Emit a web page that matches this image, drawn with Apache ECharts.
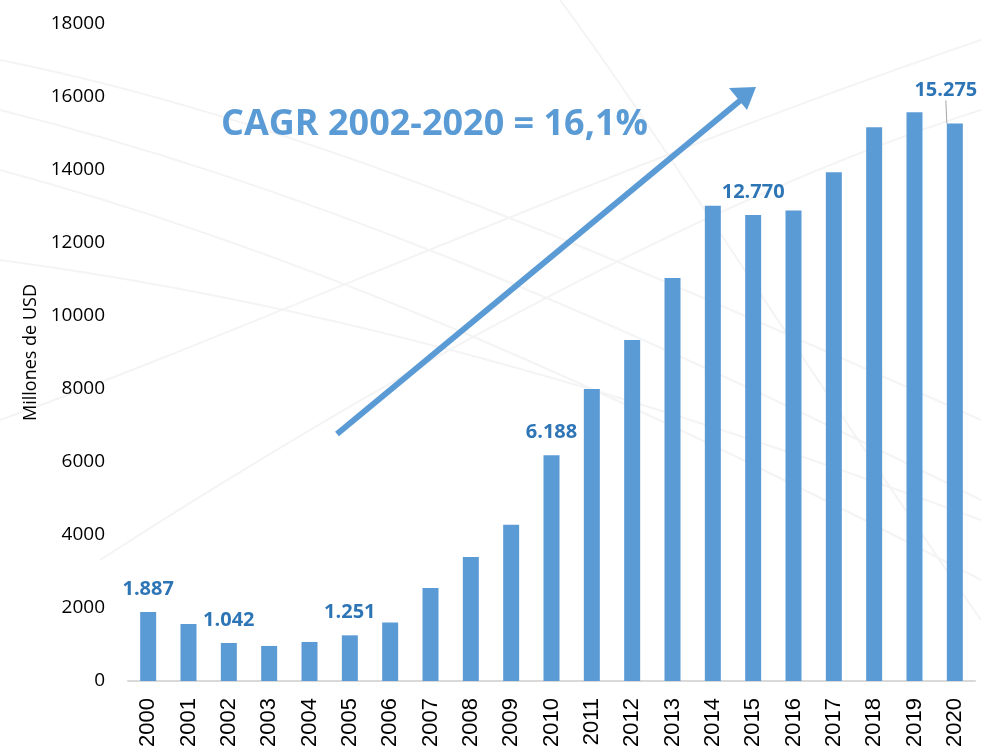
<!DOCTYPE html>
<html>
<head>
    <meta charset="utf-8">
    <title>ECharts</title>
    <script src="https://cdn.jsdelivr.net/npm/echarts@6/dist/echarts.min.js"></script>
    <style>
        html, body { margin: 0; padding: 0; background: #fff; }
    </style>
</head>
<body>
<div id="main" style="height: 754px; width: 981px;"></div>
<script type="text/javascript">
    var years = ['2000', '2001', '2002', '2003', '2004', '2005', '2006', '2007', '2008', '2009', '2010',
        '2011', '2012', '2013', '2014', '2015', '2016', '2017', '2018', '2019', '2020'];
    var values = [1887, 1560, 1042, 960, 1070, 1251, 1600, 2550, 3400, 4280, 6188,
        8000, 9340, 11040, 13020, 12770, 12890, 13940, 15170, 15580, 15275];
    // only these years carry a value label
    var labelled = ['2000', '2002', '2005', '2010', '2015', '2020'];
    var yTicks = { min: 0, max: 18000, interval: 2000 };
    var cagrText = 'CAGR 2002-2020 = 16,1%';

    var myChart = echarts.init(document.getElementById('main'));

    function fmt(v) {
        return String(v).replace(/\B(?=(\d{3})+(?!\d))/g, '.');
    }

    var last = values.length - 1;
    var barData = values.map(function (v, i) {
        return {
            value: v,
            label: { show: labelled.indexOf(years[i]) >= 0 },
            labelLine: { show: i === last }
        };
    });

    // faint decorative swooshes in the background
    var deco = [];
    var curves = [
        [[0, 60], [300, 120], [600, 250], [981, 420]],
        [[0, 110], [280, 180], [580, 300], [981, 500]],
        [[0, 170], [260, 240], [560, 360], [981, 580]],
        [[0, 420], [250, 330], [600, 170], [981, 40]],
        [[100, 560], [380, 380], [700, 200], [981, 110]],
        [[560, 0], [650, 120], [800, 360], [981, 620]],
        [[0, 260], [300, 300], [600, 380], [981, 520]]
    ];
    curves.forEach(function (c) {
        deco.push({
            type: 'bezierCurve',
            z: -10,
            shape: { x1: c[0][0], y1: c[0][1], cpx1: c[1][0], cpy1: c[1][1],
                cpx2: c[2][0], cpy2: c[2][1], x2: c[3][0], y2: c[3][1] },
            style: { stroke: '#F4F4F4', lineWidth: 2, fill: null }
        });
    });

    var option = {
        backgroundColor: '#fff',
        animation: false,
        grid: { left: 128, right: 6, top: 24, bottom: 73 },
        xAxis: {
            type: 'category',
            data: years,
            axisLine: { lineStyle: { color: '#D9D9D9', width: 2 } },
            axisTick: { show: false },
            axisLabel: {
                rotate: 90,
                margin: 17,
                color: '#000',
                fontFamily: 'Liberation Sans',
                fontSize: 22
            }
        },
        yAxis: {
            type: 'value',
            min: yTicks.min,
            max: yTicks.max,
            interval: yTicks.interval,
            name: 'Millones de USD',
            nameLocation: 'middle',
            nameGap: 88,
            nameTextStyle: { color: '#000', fontFamily: 'Open Sans', fontSize: 18 },
            axisLine: { show: false },
            axisTick: { show: false },
            splitLine: { show: false },
            axisLabel: {
                margin: 23,
                color: '#000',
                fontFamily: 'Open Sans',
                fontSize: 19,
                formatter: function (v) { return String(v); }
            }
        },
        graphic: deco.concat([
            {
                type: 'text',
                left: 221,
                top: 107,
                style: {
                    text: cagrText,
                    fill: '#5B9BD5',
                    font: 'bold 36px "Open Sans"'
                }
            },
            {
                type: 'line',
                shape: { x1: 337, y1: 434, x2: 742, y2: 99 },
                style: { stroke: '#5B9BD5', lineWidth: 6 }
            },
            {
                type: 'polygon',
                shape: { points: [[756, 87], [747, 110], [729, 88]] },
                style: { fill: '#5B9BD5' }
            }
        ]),
        series: [{
            type: 'bar',
            data: barData,
            barWidth: 16,
            itemStyle: { color: '#5B9BD5' },
            label: {
                position: 'top',
                distance: 13,
                color: '#2E75B6',
                fontFamily: 'Open Sans',
                fontWeight: 'bold',
                fontSize: 20,
                formatter: function (p) { return fmt(p.value); }
            },
            labelLine: { lineStyle: { color: '#A6A6A6', width: 1 } },
            labelLayout: function (p) {
                if (p.dataIndex === last) {
                    return { dx: -9, dy: -10 };
                }
                return {};
            }
        }]
    };

    myChart.setOption(option);
</script>
</body>
</html>
